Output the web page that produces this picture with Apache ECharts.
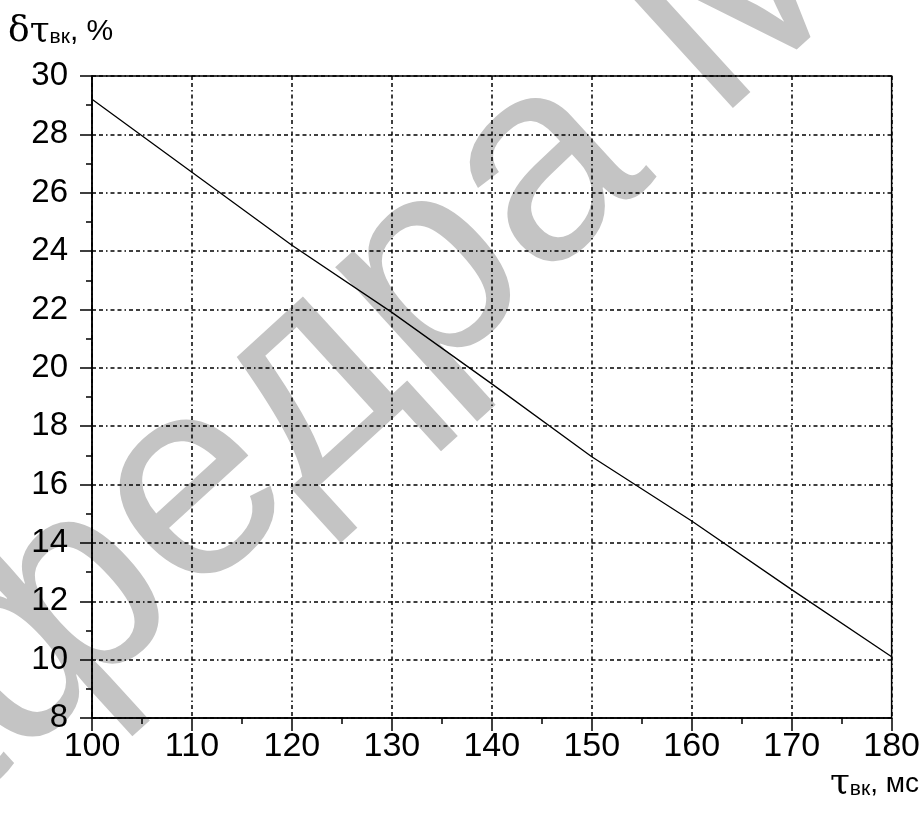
<!DOCTYPE html>
<html><head><meta charset="utf-8">
<script src="https://cdn.jsdelivr.net/npm/echarts@6/dist/echarts.min.js"></script>
<style>html,body{margin:0;padding:0;background:#fff}#c{width:923px;height:814px}</style>
</head><body><div id="c"></div>
<script>
const xValues = [100, 110, 120, 130, 140, 150, 160, 170, 180];
const yValues = [29.2, 26.7, 24.2, 21.9, 19.45, 16.95, 14.75, 12.4, 10.1];
const xMin = 100, xMax = 180, xStep = 10;
const yMin = 8, yMax = 30, yStep = 2;
const watermarkText = 'Кафедра М';

const FONT = '"Liberation Sans", Arial, sans-serif';
const chart = echarts.init(document.getElementById('c'), null, {renderer: 'canvas'});
const dashStyle = {color: '#000', width: 1.5, type: [4, 3, 4, 3, 1.5, 3]};
chart.setOption({
  animation: false,
  backgroundColor: '#fff',
  grid: {left: 92, right: 29, top: 76, bottom: 96, show: true, borderColor: '#000', borderWidth: 1.5, backgroundColor: 'transparent'},
  xAxis: {
    type: 'value', min: xMin, max: xMax, interval: xStep,
    axisLine: {show: true, onZero: false, lineStyle: {color: '#000', width: 1.5}},
    axisTick: {show: true, inside: false, length: 13, lineStyle: {color: '#000', width: 1.5}},
    minorTick: {show: true, splitNumber: 2, length: 6, lineStyle: {color: '#000', width: 1.5}},
    axisLabel: {color: '#000', fontSize: 34, fontFamily: FONT, margin: 12},
    splitLine: {show: true, lineStyle: dashStyle}
  },
  yAxis: {
    type: 'value', min: yMin, max: yMax, interval: yStep,
    axisLine: {show: true, onZero: false, lineStyle: {color: '#000', width: 1.5}},
    axisTick: {show: true, inside: false, length: 12, lineStyle: {color: '#000', width: 1.5}},
    minorTick: {show: true, splitNumber: 2, length: 6, lineStyle: {color: '#000', width: 1.5}},
    axisLabel: {color: '#000', fontSize: 33, fontFamily: FONT, margin: 24},
    splitLine: {show: true, lineStyle: dashStyle}
  },
  series: [{
    type: 'line', symbol: 'none', z: 5,
    lineStyle: {color: '#000', width: 1.3},
    data: xValues.map((x, i) => [x, yValues[i]])
  }],
  graphic: [
    {type: 'text', z: -100, zlevel: 0, silent: true, x: 280, y: 415, rotation: 0.74,
     style: {text: watermarkText, fontSize: 285, fontFamily: FONT, fill: '#c4c4c4', align: 'center', verticalAlign: 'middle'}},
    {type: 'text', left: 8, top: 14,
     style: {text: '{a|δτ}{b|вк}{c|, %}', fontFamily: FONT,
       rich: {a: {fontSize: 36, fill: '#000', fontFamily: 'DejaVu Serif'}, b: {fontSize: 21, fill: '#000', padding: [10,0,0,0]}, c: {fontSize: 30, fill: '#000'}}}},
    {type: 'text', right: 4, top: 766,
     style: {text: '{a|τ}{b|вк}{c|, мс}', fontFamily: FONT,
       rich: {a: {fontSize: 36, fill: '#000', fontFamily: 'DejaVu Serif'}, b: {fontSize: 21, fill: '#000', padding: [10,0,0,0]}, c: {fontSize: 28, fill: '#000'}}}}
  ]
});
</script></body></html>
